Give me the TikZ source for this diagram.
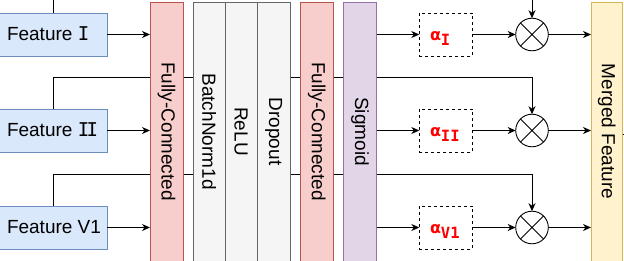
\documentclass[tikz,border=0pt]{standalone}
\usepackage{fontspec}
\setmainfont{Liberation Sans}
\newfontfamily\dvmono{DejaVu Sans Mono}
\newfontfamily\dvsans{DejaVu Sans}
\usetikzlibrary{arrows.meta,backgrounds}
\definecolor{featfill}{HTML}{DAE8FC}
\definecolor{featstroke}{HTML}{6C8EBF}
\definecolor{fcfill}{HTML}{F8CECC}
\definecolor{fcstroke}{HTML}{B85450}
\definecolor{grayfill}{HTML}{F5F5F5}
\definecolor{graystroke}{HTML}{666666}
\definecolor{sigfill}{HTML}{E1D5E7}
\definecolor{sigstroke}{HTML}{9673A6}
\definecolor{mergfill}{HTML}{FFF2CC}
\definecolor{mergstroke}{HTML}{D6B656}
\definecolor{alphared}{HTML}{FF0000}
\newcommand\romI{{\dvmono I}}
\newcommand\romII{{\dvmono I\kern-2.6pt I}}
\newcommand\alab[1]{\makebox[32pt][l]{{\dvsans\bfseries\fontsize{16}{18}\selectfont α}\raisebox{-5pt}{\dvmono\bfseries\fontsize{15.5}{18}\selectfont #1}}}
\newcommand\flab[1]{\makebox[92pt][l]{#1}}
\newcommand\vlab[1]{\rotatebox{-90}{#1\hspace{6pt}}}
\begin{document}
\begin{tikzpicture}[x=1pt,y=-1pt,
  every node/.style={inner sep=0pt, outer sep=0pt},
  base/.style={draw, line width=0.9pt},
  featbox/.style={base, draw=featstroke, fill=featfill, minimum width=108pt,
    minimum height=43pt, text height=13pt,
    text depth=2pt, font=\fontsize{19}{22}\selectfont},
  tallbox/.style={base, minimum height=265pt, anchor=north west,
    font=\fontsize{19}{22}\selectfont},
  fcbox/.style={tallbox, draw=fcstroke, fill=fcfill},
  graybox/.style={tallbox, draw=graystroke, fill=grayfill},
  sigbox/.style={tallbox, draw=sigstroke, fill=sigfill},
  mergbox/.style={tallbox, draw=mergstroke, fill=mergfill},
  abox/.style={base, dash pattern=on 3pt off 3pt, fill=white, minimum width=53.4pt,
    minimum height=43pt, text height=13pt,
    text depth=2pt, text=alphared},
  mult/.style={base, circle, fill=white, minimum size=32.6pt},
  conn/.style={line width=0.9pt},
  arr/.style={conn, -{Stealth[length=8pt,width=7pt,inset=2.5pt]}}
]
\useasboundingbox (0,0) rectangle (624,260);

% feature boxes
\node[featbox] (f1) at (53,34.5) {\flab{Feature \romI}};
\node[featbox] (f2) at (53,130.5) {\flab{Feature \romII}};
\node[featbox] (f3) at (53,227.5) {\flab{Feature V1}};

% tall layers
\node[fcbox, minimum width=33.3pt] (fc1) at (150,2) {\vlab{Fully-Connected}};
\node[graybox, minimum width=31.7pt] (bn) at (193.3,2) {\vlab{BatchNorm1d}};
\node[graybox, minimum width=32.3pt] (relu) at (225,2) {\vlab{ReLU}};
\node[graybox, minimum width=32.7pt] (drop) at (257.3,2) {\vlab{Dropout}};
\node[fcbox, minimum width=33.7pt] (fc2) at (300,2) {\vlab{Fully-Connected}};
\node[sigbox, minimum width=33.3pt] (sig) at (343.3,2) {\vlab{Sigmoid}};
\node[mergbox, minimum width=31.7pt] (merg) at (591,2) {\vlab{Merged Feature}};

% attention weights
\node[abox] (a1) at (446,34.5) {\alab{I}};
\node[abox] (a2) at (446,130.5) {\alab{II}};
\node[abox] (a3) at (446,227.5) {\alab{V1}};

% multipliers
\node[mult] (m1) at (532,34.5) {};
\node[mult] (m2) at (532,130.5) {};
\node[mult] (m3) at (532,227.5) {};
\foreach \m in {m1,m2,m3}{
  \draw[conn] (\m.north west) -- (\m.south east) (\m.north east) -- (\m.south west);
}

% skip connections behind the layers
\begin{pgfonlayer}{background}
\draw[arr] (f1.north) -- ++(0,-30) -| (m1.north);
\draw[arr] (f2.north) -- ++(0,-32) -| (m2.north);
\draw[arr] (f3.north) -- ++(0,-32) -| (m3.north);
\end{pgfonlayer}

% inputs to first layer
\draw[arr] (f1.east) -- (f1.east -| fc1.west);
\draw[arr] (f2.east) -- (f2.east -| fc1.west);
\draw[arr] (f3.east) -- (f3.east -| fc1.west);

% sigmoid to weights
\draw[arr] (a1.west -| sig.east) -- (a1.west);
\draw[arr] (a2.west -| sig.east) -- (a2.west);
\draw[arr] (a3.west -| sig.east) -- (a3.west);

% weights to multipliers
\draw[arr] (a1.east) -- (m1.west);
\draw[arr] (a2.east) -- (m2.west);
\draw[arr] (a3.east) -- (m3.west);

% multipliers to merged feature
\draw[arr] (m1.east) -- (m1.east -| merg.west);
\draw[arr] (m2.east) -- (m2.east -| merg.west);
\draw[arr] (m3.east) -- (m3.east -| merg.west);

% outgoing
\draw[conn] (merg.east) -- ++(10,0);
\end{tikzpicture}
\end{document}
